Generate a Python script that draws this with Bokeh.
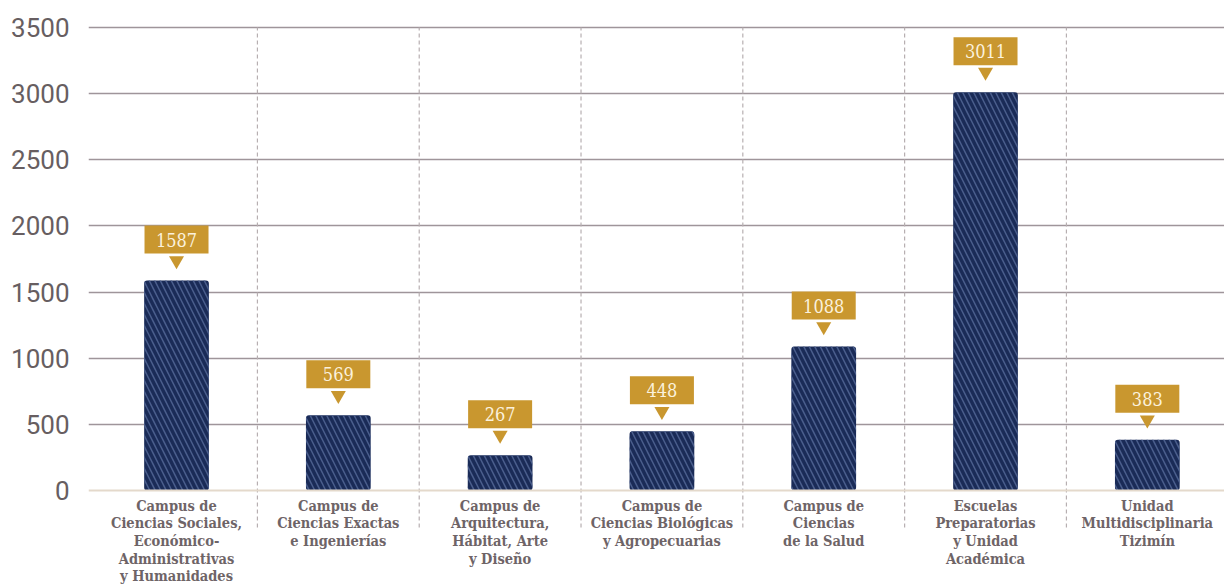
from bokeh.plotting import figure
from bokeh.models import Range1d, FixedTicker, ColumnDataSource, Span
from bokeh.core.properties import value
from bokeh.embed import file_html
from bokeh.resources import INLINE

# ---- data ----
categories = [
    "Campus de\nCiencias Sociales,\nEconómico-\nAdministrativas\ny Humanidades",
    "Campus de\nCiencias Exactas\ne Ingenierías",
    "Campus de\nArquitectura,\nHábitat, Arte\ny Diseño",
    "Campus de\nCiencias Biológicas\ny Agropecuarias",
    "Campus de\nCiencias\nde la Salud",
    "Escuelas\nPreparatorias\ny Unidad\nAcadémica",
    "Unidad\nMultidisciplinaria\nTizimín",
]
values = [1587, 569, 267, 448, 1088, 3011, 383]
y_ticks = [0, 500, 1000, 1500, 2000, 2500, 3000, 3500]

# ---- layout helpers ----
Y_MIN, Y_MAX = -718, 3553
W, H = 1224, 585
TOP = 20
px_per_unit = (H - TOP) / (Y_MAX - Y_MIN)

def px(n):
    return n / px_per_unit

xs = list(range(len(values)))
labels = [str(v) for v in values]

src = ColumnDataSource(dict(
    x=xs,
    v=values,
    lab=labels,
    cat=categories,
    box_y=[v + px(41) for v in values],
    tri_y=[v + px(20) for v in values],
    cat_y=[-px(6)] * len(values),
))

p = figure(width=W, height=H, output_backend="svg", toolbar_location=None,
           x_range=Range1d(-0.544, 6.477), y_range=Range1d(Y_MIN, Y_MAX),
           x_axis_location=None,
           min_border_left=88, min_border_right=0, min_border_top=TOP, min_border_bottom=0)
p.outline_line_color = None
p.background_fill_color = "white"
p.border_fill_color = "white"
p.xgrid.visible = False

p.ygrid.ticker = FixedTicker(ticks=y_ticks[1:])
p.ygrid.grid_line_color = "#9f959a"
p.ygrid.grid_line_width = 1.5

p.yaxis.ticker = FixedTicker(ticks=y_ticks)
p.yaxis.axis_line_color = None
p.yaxis.major_tick_line_color = None
p.yaxis.minor_tick_line_color = None
p.yaxis.major_label_standoff = 13
p.yaxis.major_label_text_font = "Roboto"
p.yaxis.major_label_text_font_size = "26px"
p.yaxis.major_label_text_color = "#675e61"

p.add_layout(Span(location=0, dimension="width", line_color="#e4d9cb", line_width=2))

# dashed separators
sep_x = [i + 0.5 for i in range(len(values) - 1)]
p.segment(x0=sep_x, x1=sep_x, y0=[-px(37)] * len(sep_x), y1=[3500] * len(sep_x),
          line_color="#b7afb1", line_width=1.2, line_dash="4 3")

# bars
p.vbar(x="x", top="v", bottom=0, width=0.40, source=src,
       fill_color="#1a2b57", line_color=None,
       hatch_pattern="\\", hatch_color="#4f6391", hatch_alpha=0.9,
       hatch_scale=11, hatch_weight=1.5, border_radius=3)

# value callouts
p.scatter(x="x", y="tri_y", source=src, marker="inverted_triangle", size=15,
          fill_color="#c9972f", line_color=None)
p.rect(x="x", y="box_y", width=64, height=28, width_units="screen", height_units="screen",
       source=src, fill_color="#c9972f", line_color=None)
p.text(x="x", y="box_y", text="lab", source=src, text_align="center", text_baseline="middle",
       text_font=value("DejaVu Serif Condensed"), text_font_size="18px", text_color="#fbf1dc")

# category labels
p.text(x="x", y="cat_y", text="cat", source=src, text_align="center", text_baseline="top",
       text_font=value("DejaVu Serif Condensed"), text_font_style="bold",
       text_font_size="14.5px", text_color="#6e6467", text_line_height=1.04)

open("out.html", "w").write(file_html(p, INLINE))
